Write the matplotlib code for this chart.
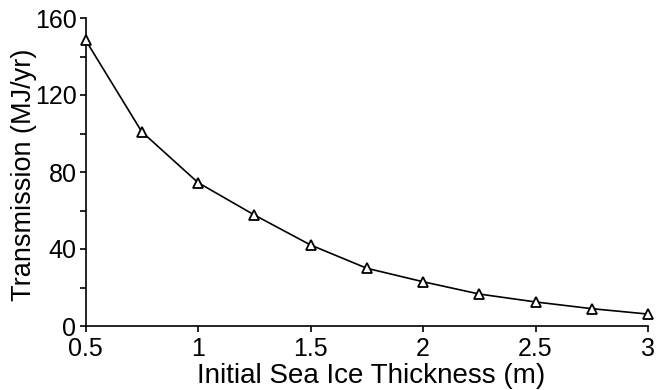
import matplotlib.pyplot as plt
from matplotlib.ticker import MultipleLocator

# Data
thickness = [0.5, 0.75, 1.0, 1.25, 1.5, 1.75, 2.0, 2.25, 2.5, 2.75, 3.0]
transmission = [148.6, 100.9, 74.5, 57.7, 42.1, 30.0, 23.0, 16.6, 12.5, 9.0, 6.2]
x_ticks = [0.5, 1, 1.5, 2, 2.5, 3]
x_tick_labels = ["0.5", "1", "1.5", "2", "2.5", "3"]
y_ticks = [0, 40, 80, 120, 160]

plt.rcParams['font.family'] = ['Liberation Sans', 'DejaVu Sans']

fig = plt.figure(figsize=(6.64, 3.9), dpi=100)
ax = fig.add_axes([85.5 / 664, 64 / 390, (648 - 85.5) / 664, (326 - 18) / 390])

ax.plot(thickness, transmission, color='black', linewidth=1.2, marker='^',
        markersize=7, markerfacecolor='white', markeredgecolor='black',
        markeredgewidth=1.3, clip_on=False, zorder=3)

ax.set_xlim(0.5, 3)
ax.set_ylim(0, 160)
ax.set_xticks(x_ticks)
ax.set_xticklabels(x_tick_labels)
ax.set_yticks(y_ticks)
ax.yaxis.set_minor_locator(MultipleLocator(20))

for side in ['top', 'right']:
    ax.spines[side].set_visible(False)
for side in ['left', 'bottom']:
    ax.spines[side].set_linewidth(1.2)

ax.tick_params(axis='both', which='major', direction='out', length=4.5, width=1.2,
               labelsize=18)
ax.tick_params(axis='y', which='minor', direction='out', length=4.5, width=1.2)
ax.tick_params(axis='x', pad=3.5)
ax.tick_params(axis='y', pad=2)

ax.set_xlabel('Initial Sea Ice Thickness (m)', fontsize=20)
ax.set_ylabel('Transmission (MJ/yr)', fontsize=19.5)
ax.xaxis.set_label_coords(0.5076, -0.12)
ax.yaxis.set_label_coords(-0.087, 0.49)

fig.savefig('out.png', dpi=100)
